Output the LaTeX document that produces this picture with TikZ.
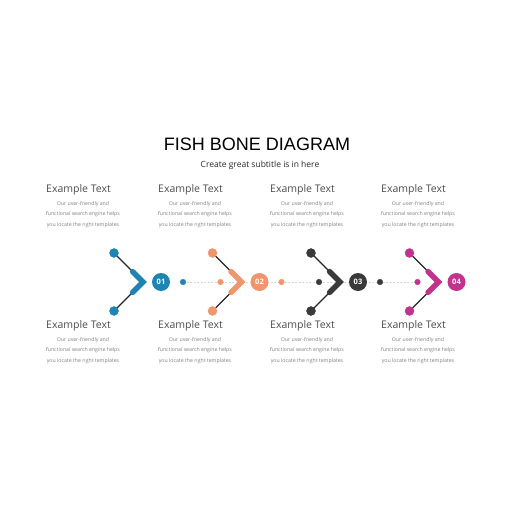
\documentclass[tikz,border=0pt]{standalone}
\usepackage{fontspec}
\setmainfont{Open Sans}
\newfontfamily\titlefont{Liberation Sans}
\usetikzlibrary{positioning}
\usetikzlibrary{calc}

\definecolor{fishblue}{RGB}{30,133,178}
\definecolor{fishorange}{RGB}{240,150,108}
\definecolor{fishdark}{RGB}{58,58,58}
\definecolor{fishpink}{RGB}{192,52,140}
\definecolor{bonegray}{RGB}{215,215,215}

\tikzset{
    heading/.style={anchor=west, inner sep=0pt, text=black!70,
        font=\fontsize{10.5}{12}\selectfont},
    bodytext/.style={align=center, inner sep=0pt, text=black!50,
        font=\fontsize{5.2}{10.5}\selectfont},
    numbadge/.style={circle, inner sep=0pt, minimum size=18pt, text=white,
        font=\bfseries\fontsize{7.5}{8}\selectfont},
}

\begin{document}
\begin{tikzpicture}[x=1pt, y=-1pt]
    \useasboundingbox (0,0) rectangle (520,520);

    % title
    \node[font=\titlefont\fontsize{18}{20}\selectfont] (title) at (257,144) {FISH BONE DIAGRAM};
    \node[font=\fontsize{8.5}{10}\selectfont, text=black!85] (subtitle) at (260,165.5) {Create great subtitle is in here};

    % spine
    \coordinate (spineA) at (183,282);
    \coordinate (spineB) at (418,282);
    \draw[bonegray, dashed, dash pattern=on 2pt off 1.5pt, line width=0.5pt] (spineA) -- (spineB);

    % bones
    \foreach \n/\x/\col in {1/114/fishblue, 2/212.5/fishorange, 3/311/fishdark, 4/409.5/fishpink} {
        \coordinate (top\n) at (\x,253);
        \coordinate (bot\n) at (\x,311);
        \coordinate (tip\n) at (\x+29,282);
        \draw[black!85, line width=1.2pt] (top\n) -- (tip\n) -- (bot\n);
        \draw[\col, line width=5.5pt, line cap=round, line join=miter]
            ($(tip\n)!0.36!(top\n)$) -- (tip\n) -- ($(tip\n)!0.36!(bot\n)$);
        \filldraw[\col] (top\n) circle (4.5pt);
        \filldraw[\col] (bot\n) circle (4.5pt);
        \node[numbadge, fill=\col] (num\n) at (\x+47,282) {0\n};
        \ifnum\n<4
            \filldraw[\col] (\x+69,282) circle (2.8pt);
        \fi
        \ifnum\n>1
            \filldraw[\col] (\x+8,282) circle (2.8pt);
        \fi
    }

    % labels
    \foreach \n/\lx in {1/46, 2/158, 3/270, 4/381} {
        \node[heading] (headA\n) at (\lx,189.5) {Example Text};
        \node[bodytext] (bodyA\n) at (\lx+37,214.5) {Our user-friendly and\\functional search engine helps\\you locate the right templates};
        \node[heading] (headB\n) at (\lx,325.5) {Example Text};
        \node[bodytext] (bodyB\n) at (\lx+37,350.5) {Our user-friendly and\\functional search engine helps\\you locate the right templates};
    }
\end{tikzpicture}
\end{document}
